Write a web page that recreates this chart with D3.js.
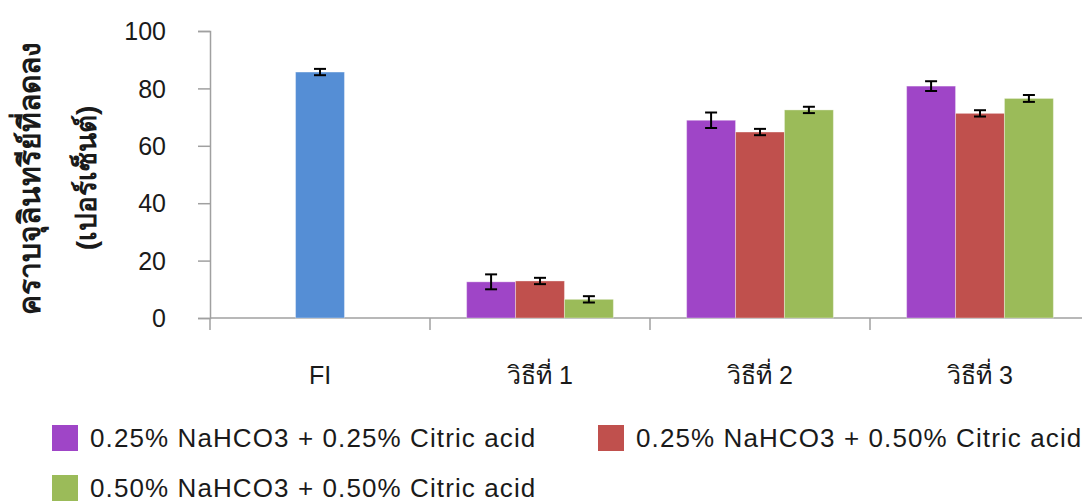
<!DOCTYPE html>
<html lang="th">
<head>
<meta charset="utf-8">
<script src="https://d3js.org/d3.v7.min.js"></script>
<style>
  body { margin: 0; background: #fff; }
  svg { display: block; font-family: "Liberation Sans", Arial, sans-serif; }
</style>
</head>
<body>
<div id="chart"></div>
<script>
// categories on the x axis
const categories = ["FI", "วิธีที่ 1", "วิธีที่ 2", "วิธีที่ 3"];

// FI control bar (not in legend)
const fiValues = [85.7, null, null, null];
const fiErrors = [1.1, null, null, null];

// treatment series
const seriesNames = [
  "0.25% NaHCO3 + 0.25% Citric acid",
  "0.25% NaHCO3 + 0.50% Citric acid",
  "0.50% NaHCO3 + 0.50% Citric acid"
];
const s1Values = [null, 12.6, 68.9, 80.8];
const s1Errors = [null, 2.6, 2.7, 1.7];
const s2Values = [null, 12.9, 64.8, 71.3];
const s2Errors = [null, 1.1, 1.1, 1.1];
const s3Values = [null, 6.5, 72.5, 76.5];
const s3Errors = [null, 1.1, 1.1, 1.2];

const yTicks = [0, 20, 40, 60, 80, 100];

const colors = ["#9f45c7", "#c0504d", "#9bbb59"];
const fiColor = "#558ed5";
const axisColor = "#a0a0a0";

const width = 1082, height = 502;
const x0 = 210, x1 = 1090, yTop = 31, yBottom = 318;

const svg = d3.select("#chart").append("svg")
  .attr("width", width)
  .attr("height", height);

// scales
const x = d3.scaleBand().domain(categories).range([x0, x1]);
const bw = x.bandwidth();
const groupW = bw * 0.667;
const xSub = d3.scaleBand().domain([0, 1, 2])
  .range([(bw - groupW) / 2, (bw + groupW) / 2]);
const y = d3.scaleLinear().domain([0, 100]).range([yBottom, yTop]);

// y axis
const yAxis = svg.append("g")
  .attr("transform", "translate(" + x0 + ",0)")
  .call(d3.axisLeft(y).tickValues(yTicks).tickSize(12).tickPadding(32));
yAxis.select(".domain").attr("stroke", axisColor).attr("stroke-width", 1.5);
yAxis.selectAll(".tick line").attr("stroke", axisColor).attr("stroke-width", 1.5);
yAxis.selectAll(".tick text")
  .attr("fill", "#1a1a1a")
  .style("font-size", "25px")
  .attr("dy", "0.35em");

// x axis: line + boundary ticks
const xg = svg.append("g");
xg.append("line")
  .attr("x1", x0).attr("x2", width)
  .attr("y1", yBottom).attr("y2", yBottom)
  .attr("stroke", axisColor).attr("stroke-width", 1.5);
xg.selectAll(".xtick")
  .data(categories)
  .enter().append("line")
  .attr("class", "xtick")
  .attr("x1", d => x(d)).attr("x2", d => x(d))
  .attr("y1", yBottom).attr("y2", yBottom + 12)
  .attr("stroke", axisColor).attr("stroke-width", 1.5);
xg.selectAll(".xlabel")
  .data(categories)
  .enter().append("text")
  .attr("class", "xlabel")
  .attr("x", d => x(d) + bw / 2)
  .attr("y", 384)
  .attr("text-anchor", "middle")
  .attr("fill", "#1a1a1a")
  .style("font-size", "25px")
  .text(d => d);

// bars
const sVals = [s1Values, s2Values, s3Values];
const sErrs = [s1Errors, s2Errors, s3Errors];

const bars = [];
categories.forEach((c, i) => {
  if (fiValues[i] != null) {
    bars.push({ x: x(c) + bw / 2 - xSub.bandwidth() / 2, v: fiValues[i], e: fiErrors[i], color: fiColor });
  }
  sVals.forEach((arr, k) => {
    if (arr[i] != null) {
      bars.push({ x: x(c) + xSub(k), v: arr[i], e: sErrs[k][i], color: colors[k] });
    }
  });
});

svg.append("g").selectAll("rect")
  .data(bars)
  .enter().append("rect")
  .attr("x", d => d.x)
  .attr("width", xSub.bandwidth())
  .attr("y", d => y(d.v))
  .attr("height", d => y(0) - y(d.v))
  .attr("fill", d => d.color)
  .attr("stroke", "rgba(255,255,255,0.35)")
  .attr("stroke-width", 1);

// error bars
const eg = svg.append("g").attr("stroke", "#000").attr("stroke-width", 2);
bars.forEach(d => {
  const cx = d.x + xSub.bandwidth() / 2;
  eg.append("line").attr("x1", cx).attr("x2", cx)
    .attr("y1", y(d.v + d.e)).attr("y2", y(d.v - d.e));
  [d.v + d.e, d.v - d.e].forEach(v => {
    eg.append("line").attr("x1", cx - 6).attr("x2", cx + 6)
      .attr("y1", y(v)).attr("y2", y(v));
  });
});

// y axis title (two lines, rotated)
const yt = svg.append("text")
  .attr("transform", "translate(30,178) rotate(-90)")
  .attr("text-anchor", "middle")
  .attr("font-weight", "bold")
  .attr("fill", "#1a1a1a")
  .style("font-size", "30px");
yt.append("tspan").attr("x", 0).attr("y", 10).text("คราบจุลินทรีย์ที่ลดลง");
yt.append("tspan").attr("x", 0).attr("y", 66).style("font-size", "28px").text("(เปอร์เซ็นต์)");

// legend
const legendPos = [[52, 438], [598, 438], [52, 488]];
const lg = svg.append("g");
seriesNames.forEach((name, k) => {
  const p = legendPos[k];
  lg.append("rect")
    .attr("x", p[0]).attr("y", p[1] - 13)
    .attr("width", 26).attr("height", 26)
    .attr("fill", colors[k]);
  lg.append("text")
    .attr("x", p[0] + 38).attr("y", p[1])
    .attr("dy", "0.35em")
    .attr("fill", "#1a1a1a")
    .style("font-size", "26px")
    .style("letter-spacing", "1.1px")
    .text(name);
});
</script>
</body>
</html>
